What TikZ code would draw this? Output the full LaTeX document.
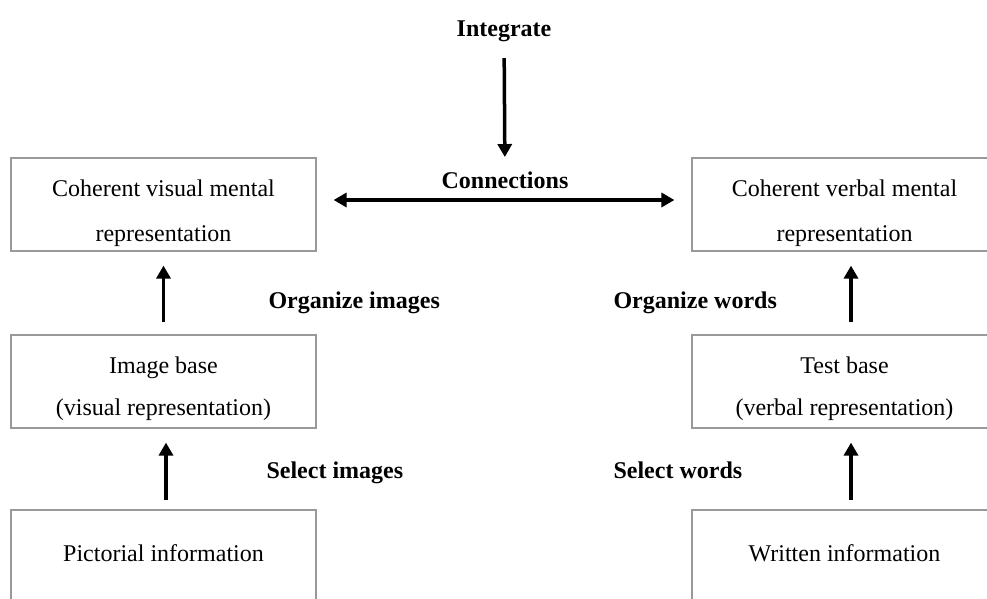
\documentclass[tikz,border=0pt]{standalone}
\usepackage{fontspec}
\setmainfont{Liberation Serif}
\usetikzlibrary{arrows.meta}

\begin{document}
\begin{tikzpicture}[x=1pt, y=-1pt,
            box/.style={draw=gray!80, line width=1.2pt, minimum width=305pt,
                minimum height=93pt, align=center, inner sep=0pt,
                font=\fontsize{24}{42}\selectfont, text depth=0pt},
            lowbox/.style={box, minimum height=90pt, text height=13pt},
            step label/.style={font=\fontsize{24}{29}\selectfont\bfseries, anchor=west,
                text height=17pt, text depth=5pt},
            flow/.style={line width=3.5pt, -{Triangle[length=13pt, width=14pt]}},
            both/.style={line width=3.5pt, {Triangle[length=13pt, width=14pt]}-{Triangle[length=13pt, width=14pt]}}]
            \useasboundingbox (0,0) rectangle (987,598);
            % Boxes, visual channel on the left
            \node[box, text height=74pt] (vis) at (163.5,204.5) {Coherent visual mental\\[3pt]representation};
            \node[box, text height=68pt] (imgbase) at (163.5,381.5) {Image base\\(visual representation)};
            \node[lowbox] (pict) at (163.5,555) {Pictorial information};
            % Boxes, verbal channel on the right
            \node[box, text height=74pt] (verb) at (844.5,204.5) {Coherent verbal mental\\[3pt]representation};
            \node[box, text height=68pt] (textbase) at (844.5,381.5) {Test base\\(verbal representation)};
            \node[lowbox] (writ) at (844.5,555) {Written information};
            % Process labels
            \node[font=\fontsize{24}{29}\selectfont\bfseries] (integrate) at (504,31) {Integrate};
            \node[font=\fontsize{24}{29}\selectfont\bfseries] (conn) at (505,180) {Connections};
            \node[step label] (orgimg) at (265,302) {Organize images};
            \node[step label] (selimg) at (263,472) {Select images};
            \node[step label] (orgwrd) at (610,302) {Organize words};
            \node[step label] (selwrd) at (610,472) {Select words};
            % Arrows
            \draw[flow, shorten <=13pt, shorten >=11pt] (integrate) -- (conn);
            \draw[both, shorten <=17pt, shorten >=17pt] ([yshift=4.5pt]vis.east) -- ([yshift=4.5pt]verb.west);
            \draw[flow, shorten <=12pt, shorten >=14pt] (imgbase.north) -- (vis.south);
            \draw[flow, shorten <=9pt, shorten >=14pt] ([xshift=2.5pt]pict.north) -- ([xshift=2.5pt]imgbase.south);
            \draw[flow, shorten <=12pt, shorten >=14pt] ([xshift=6.5pt]textbase.north) -- ([xshift=6.5pt]verb.south);
            \draw[flow, shorten <=9pt, shorten >=14pt] ([xshift=6.5pt]writ.north) -- ([xshift=6.5pt]textbase.south);
\end{tikzpicture}
\end{document}
